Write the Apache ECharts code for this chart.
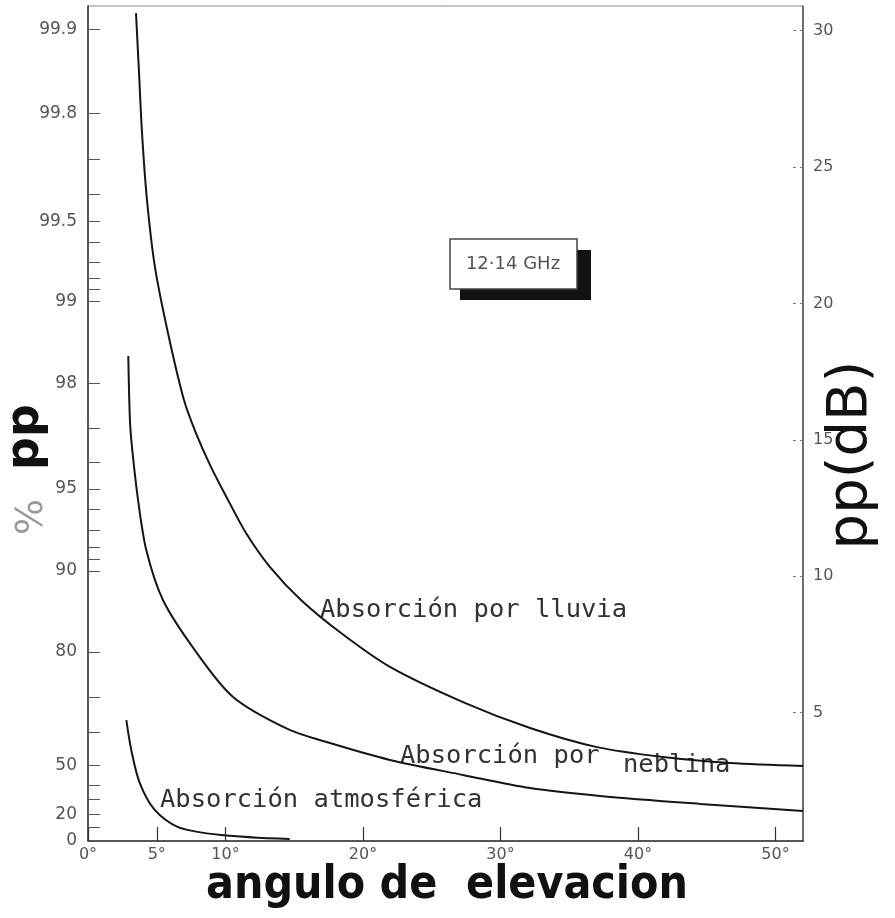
<!DOCTYPE html>
<html>
<head>
<meta charset="utf-8">
<script src="https://cdn.jsdelivr.net/npm/echarts@6/dist/echarts.min.js"></script>
<style>
  html, body { margin: 0; padding: 0; background: #fff; }
  #chart { width: 895px; height: 918px; }
</style>
</head>
<body>
<div id="chart"></div>
<script>
// elevation angle (deg) and attenuation (dB)
const rainDeg = [3.49, 3.69, 3.93, 4.29, 4.87, 5.82, 6.98, 7.85, 8.95, 10.18, 11.49, 13.24, 15.49, 18.40, 21.96, 27.27, 32.15, 37.02, 41.82, 46.69, 52.0];
const rainDb  = [30.64, 28.66, 26.24, 23.79, 21.33, 18.91, 16.46, 15.25, 14.0, 12.80, 11.59, 10.34, 9.13, 7.92, 6.68, 5.39, 4.44, 3.74, 3.38, 3.16, 3.05];

const fogDeg = [2.93, 3.05, 3.22, 3.64, 4.24, 5.45, 7.76, 10.55, 14.55, 17.6, 21.96, 27.27, 32.15, 37.24, 44.51, 52.0];
const fogDb  = [18.07, 15.73, 14.63, 12.80, 10.96, 9.13, 7.30, 5.58, 4.40, 3.89, 3.27, 2.72, 2.24, 1.95, 1.66, 1.40];

const atmDeg = [2.79, 3.15, 3.76, 4.85, 6.55, 9.67, 14.67];
const atmDb  = [4.73, 3.63, 2.43, 1.44, 0.81, 0.52, 0.37];

// axes
const xTicks = [0, 5, 10, 20, 30, 40, 50];
const dbTicks = [5, 10, 15, 20, 25, 30];
// left % scale: percentage and the dB value it sits at on the right scale
const pctTicks = [99.9, 99.8, 99.7, 99.6, 99.5, 99.4, 99.3, 99.2, 99.1, 99, 98, 97, 96, 95, 94, 93, 92, 91, 90, 80, 70, 60, 50, 40, 30, 20, 10, 0];
const pctTickDb = [30.04, 26.96, 25.28, 24.0, 23.01, 22.24, 21.51, 20.92, 20.52, 20.08, 17.08, 15.43, 14.19, 13.20, 12.47, 11.70, 11.08, 10.64, 10.20, 7.23, 5.55, 4.27, 3.06, 2.33, 1.82, 1.27, 0.79, 0.3];
const pctLabels = [99.9, 99.8, 99.5, 99, 98, 95, 90, 80, 50, 20, 0];

const xMin = 0, xMax = 52;
const dbMin = 0.3, dbMax = 30.9;

const pctLabelDb = pctTickDb.filter((d, i) => pctLabels.includes(pctTicks[i]));

function pairs(xs, ys) {
  return xs.map((x, i) => [x, ys[i]]);
}

const chart = echarts.init(document.getElementById('chart'));

const lineStyle = { color: '#151515', width: 2 };
const monoFont = 'DejaVu Sans Mono';

const option = {
  backgroundColor: '#fff',
  animation: false,
  grid: {
    left: 88, right: 92, top: 6, bottom: 77,
    show: true, borderColor: '#888', borderWidth: 1
  },
  xAxis: {
    type: 'value',
    min: xMin, max: xMax,
    axisLine: { show: true, lineStyle: { color: '#333', width: 1.5 } },
    axisTick: { show: true, inside: true, length: 14, customValues: xTicks, lineStyle: { color: '#333', width: 1.2 } },
    axisLabel: {
      customValues: xTicks, color: '#555', fontSize: 16, fontFamily: 'DejaVu Sans', margin: 6,
      formatter: v => v + '°'
    },
    splitLine: { show: false }
  },
  yAxis: [
    {
      type: 'value',
      position: 'left',
      min: dbMin, max: dbMax,
      axisLine: { show: true, onZero: false, lineStyle: { color: '#333', width: 1.5 } },
      axisTick: { show: true, inside: true, length: 12, customValues: pctTickDb, lineStyle: { color: '#555', width: 1 } },
      axisLabel: {
        customValues: pctLabelDb, color: '#555', fontSize: 17, fontFamily: 'DejaVu Sans', margin: 11,
        formatter: v => {
          const i = pctTickDb.findIndex(d => Math.abs(d - v) < 1e-6);
          return i >= 0 ? String(pctTicks[i]) : '';
        }
      },
      splitLine: { show: false }
    },
    {
      type: 'value',
      position: 'right',
      min: dbMin, max: dbMax,
      axisLine: { show: true, onZero: false, lineStyle: { color: '#555', width: 1.5 } },
      axisTick: { show: true, inside: true, length: 14, customValues: dbTicks, lineStyle: { color: '#777', width: 1, type: [3, 4] } },
      axisLabel: { customValues: dbTicks, color: '#555', fontSize: 16, fontFamily: 'DejaVu Sans', margin: 10 },
      splitLine: { show: false }
    }
  ],
  series: [
    { name: 'Absorción por lluvia', type: 'line', yAxisIndex: 1, data: pairs(rainDeg, rainDb), showSymbol: false, smooth: 0.3, lineStyle },
    { name: 'Absorción por neblina', type: 'line', yAxisIndex: 1, data: pairs(fogDeg, fogDb), showSymbol: false, smooth: 0.3, lineStyle },
    { name: 'Absorción atmosférica', type: 'line', yAxisIndex: 1, data: pairs(atmDeg, atmDb), showSymbol: false, smooth: 0.3, lineStyle }
  ],
  graphic: [
    // curve labels
    { type: 'text', x: 320, y: 610, style: { text: 'Absorción por lluvia', font: '25.5px "' + monoFont + '"', fill: '#333', verticalAlign: 'middle' } },
    { type: 'text', x: 400, y: 756, style: { text: 'Absorción por', font: '25.5px "' + monoFont + '"', fill: '#333', verticalAlign: 'middle' } },
    { type: 'text', x: 623, y: 765, style: { text: 'neblina', font: '25.5px "' + monoFont + '"', fill: '#333', verticalAlign: 'middle' } },
    { type: 'text', x: 160, y: 800, style: { text: 'Absorción atmosférica', font: '25.5px "' + monoFont + '"', fill: '#333', verticalAlign: 'middle' } },
    // frequency box with shadow
    { type: 'rect', shape: { x: 460, y: 250, width: 131, height: 50 }, style: { fill: '#111' } },
    { type: 'rect', shape: { x: 450, y: 239, width: 127, height: 50 }, style: { fill: '#fff', stroke: '#444', lineWidth: 1.5 } },
    { type: 'text', x: 513, y: 264, style: { text: '12·14 GHz', font: '18px "DejaVu Sans"', fill: '#555', align: 'center', verticalAlign: 'middle' } },
    // axis titles
    { type: 'text', x: 26, y: 437, rotation: Math.PI / 2, style: { text: 'pp', font: 'bold 46px "DejaVu Sans"', fill: '#111', align: 'center', verticalAlign: 'middle' } },
    { type: 'text', x: 32, y: 517, rotation: Math.PI / 2, style: { text: '%', font: '38px "DejaVu Sans"', fill: '#9a9a9a', align: 'center', verticalAlign: 'middle' } },
    { type: 'text', x: 851, y: 455, rotation: Math.PI / 2, style: { text: 'pp(dB)', font: '56px "DejaVu Sans"', fill: '#111', align: 'center', verticalAlign: 'middle' } },
    { type: 'text', x: 447, y: 886, style: { text: 'angulo de  elevacion', font: 'bold 46px "DejaVu Sans Condensed", "DejaVu Sans"', fill: '#111', align: 'center', verticalAlign: 'middle' } }
  ]
};

chart.setOption(option);
</script>
</body>
</html>
